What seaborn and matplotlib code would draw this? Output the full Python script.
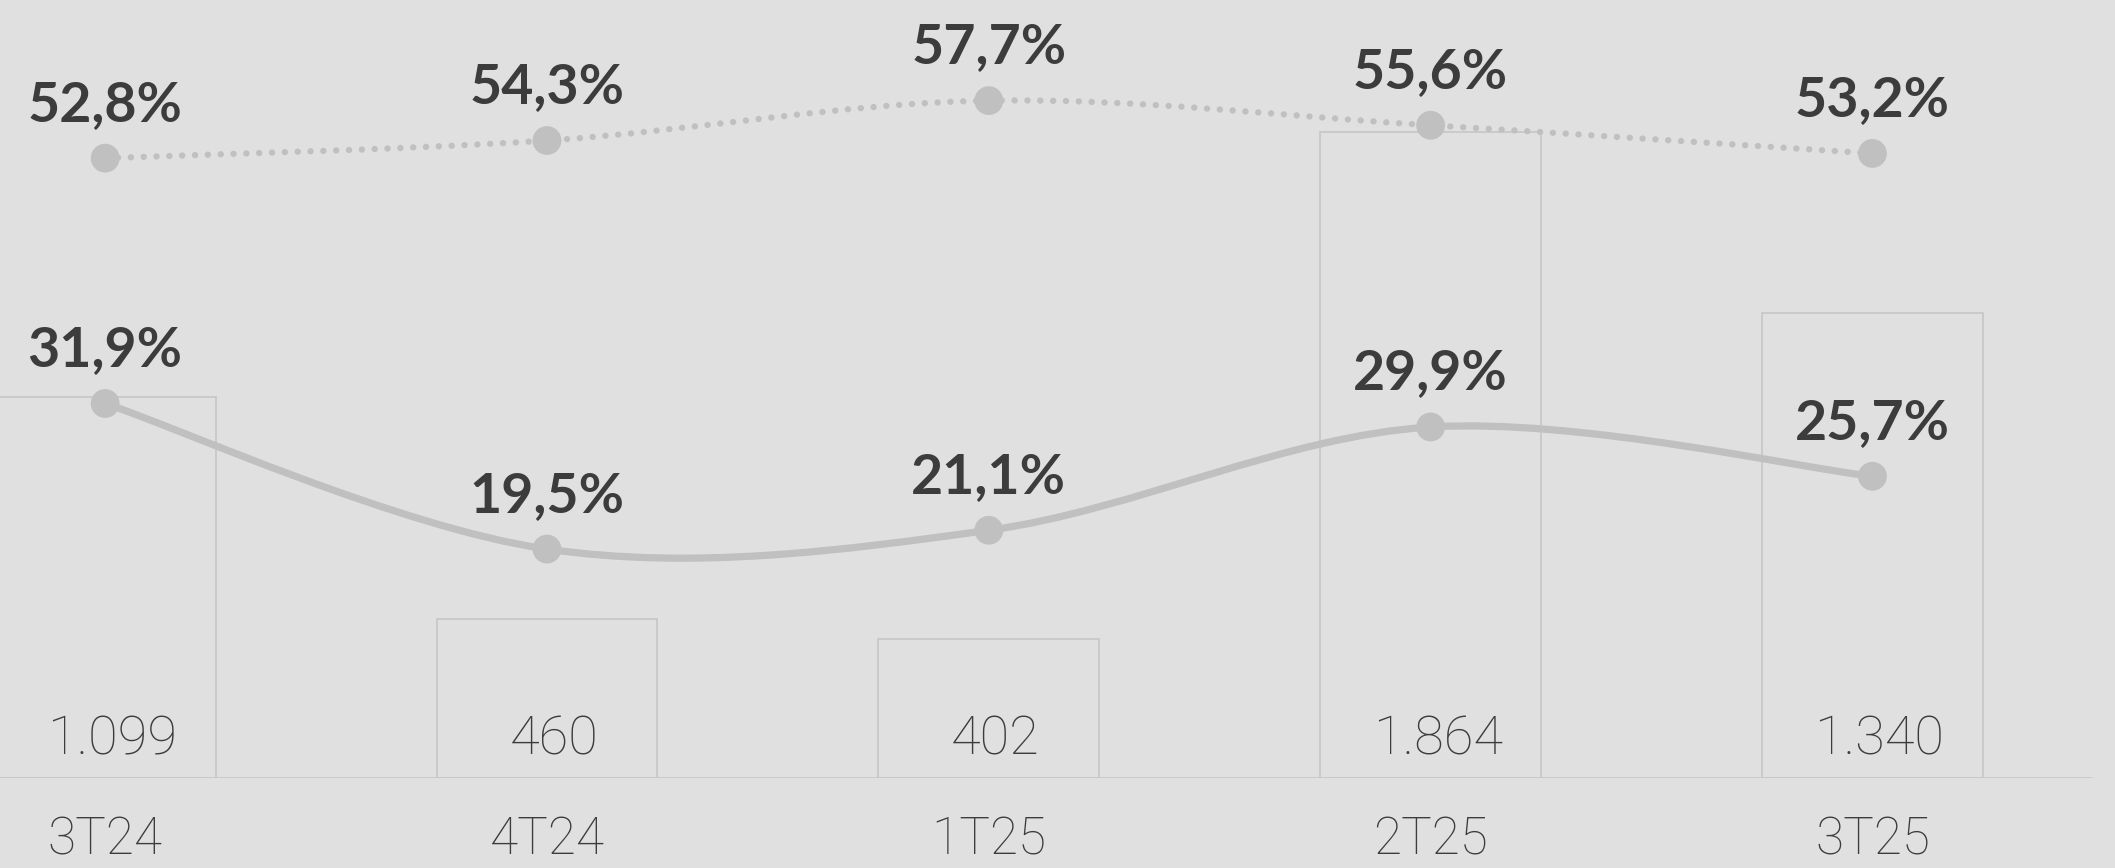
import numpy as np
import pandas as pd
import matplotlib
matplotlib.use("Agg")
import matplotlib.pyplot as plt
from matplotlib.path import Path
from matplotlib.patches import PathPatch
import seaborn as sns

# ==================================================
# DATA
# ==================================================
quarters = ["3T24", "4T24", "1T25", "2T25", "3T25"]
volume = [1099, 460, 402, 1864, 1340]
margin_upper = [52.8, 54.3, 57.7, 55.6, 53.2]   # dotted line
margin_lower = [31.9, 19.5, 21.1, 29.9, 25.7]   # solid line

# ==================================================
# STYLING
# ==================================================
BG = "#e0e0e0"
GREY = "#c0c0c0"
EDGE = "#c8c8c8"
TEXT = "#3c3c3c"
THIN = ["Roboto", "Lato", "DejaVu Sans"]

sns.set_theme(style="white")
plt.rcParams["font.family"] = ["Lato", "DejaVu Sans"]


def smooth_path(xs, ys):
    # catmull-rom style bezier through the points (like a "smoothed line")
    pts = np.column_stack([xs, ys]).astype(float)
    n = len(pts)
    verts = [pts[0]]
    codes = [Path.MOVETO]
    for i in range(n - 1):
        p0 = pts[max(i - 1, 0)]
        p1 = pts[i]
        p2 = pts[i + 1]
        p3 = pts[min(i + 2, n - 1)]
        verts += [p1 + (p2 - p0) / 6, p2 - (p3 - p1) / 6, p2]
        codes += [Path.CURVE4] * 3
    return Path(verts, codes)


df = pd.DataFrame({"quarter": quarters, "volume": volume})

fig = plt.figure(figsize=(21.15, 8.68), dpi=100, facecolor=BG)
ax = fig.add_axes([0, 0.1037, 1, 0.8963])
ax.set_facecolor(BG)

# bars (outline only)
sns.barplot(
    data=df,
    x="quarter",
    y="volume",
    ax=ax,
    width=0.5,
    fill=False,
    color=EDGE,
    linewidth=1.3,
    errorbar=None,
)

xpos = ax.get_xticks()

for x, v in zip(xpos, volume):
    ax.annotate(
        f"{v:,}".replace(",", "."),
        (x, 0),
        xytext=(5, 17),
        textcoords="offset points",
        ha="center",
        va="baseline",
        fontsize=39,
        family=THIN,
        fontweight="light",
        color=TEXT,
    )

ax.axhline(0, xmin=0, xmax=2091 / 2115, color=EDGE, lw=2)
ax.set_ylim(0, 2244)
ax.set_xlim(-0.238, 4.549)
ax.set_xlabel("")
ax.set_ylabel("")
ax.set_yticks([])
ax.tick_params(axis="x", length=0, pad=27, labelsize=37, labelcolor=TEXT)
for lbl in ax.get_xticklabels():
    lbl.set_family(THIN)
    lbl.set_fontweight("light")
sns.despine(ax=ax, left=True, bottom=True)

# lines on a percent axis
ax2 = ax.twinx()
ax2.set_ylim(0, 66.27)

ax2.add_patch(PathPatch(
    smooth_path(xpos, margin_upper),
    facecolor="none",
    edgecolor=GREY,
    lw=4.6,
    linestyle=(0, (0.01, 2.0)),
    capstyle="round",
))
ax2.add_patch(PathPatch(
    smooth_path(xpos, margin_lower),
    facecolor="none",
    edgecolor=GREY,
    lw=5.2,
    capstyle="round",
))

for series in (margin_upper, margin_lower):
    sns.scatterplot(x=xpos, y=series, ax=ax2, s=430, color=GREY,
                    edgecolor="none", zorder=3)
    for x, v in zip(xpos, series):
        ax2.annotate(
            f"{v:.1f}%".replace(".", ","),
            (x, v),
            xytext=(0, 27),
            textcoords="offset points",
            ha="center",
            va="baseline",
            fontsize=40,
            fontweight="bold",
            color=TEXT,
        )

ax2.set_xlim(-0.238, 4.549)
ax2.set_yticks([])
sns.despine(ax=ax2, left=True, bottom=True, right=True)

fig.savefig("out.png", dpi=100, facecolor=BG)
